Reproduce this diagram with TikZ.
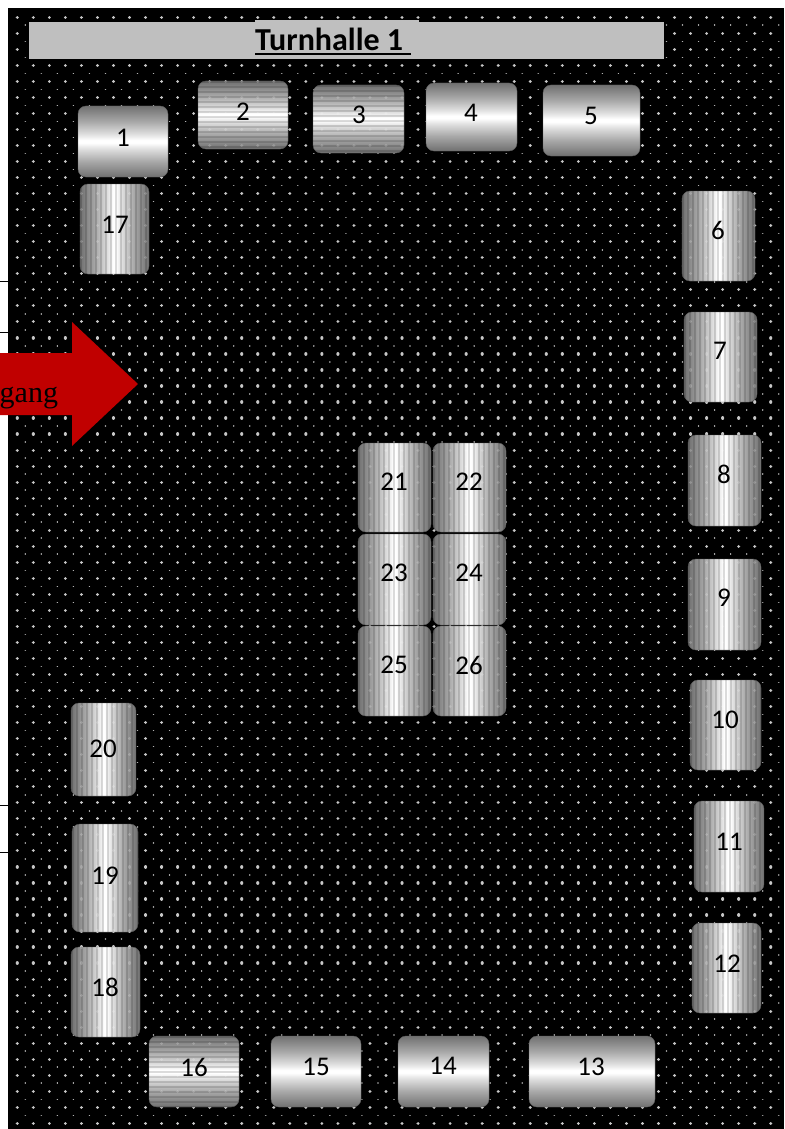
\documentclass[tikz,border=0pt]{standalone}
\usepackage{fontspec}
\setmainfont{Carlito}
\newfontfamily\serifgang{Liberation Serif}
\definecolor{hallred}{HTML}{C00000}
\definecolor{titlegray}{HTML}{BFBFBF}
\pgfdeclareverticalshading{metal}{100bp}{
  color(0bp)=(black!58!white);
  color(25bp)=(black!56!white);
  color(36bp)=(black!34!white);
  color(45bp)=(black!12!white);
  color(49bp)=(white);
  color(51bp)=(white);
  color(55bp)=(black!12!white);
  color(64bp)=(black!34!white);
  color(75bp)=(black!56!white);
  color(100bp)=(black!58!white)}
\tikzset{
  hallbox/.style={rectangle,rounded corners=8pt,shading=metal,draw=black!62!white,line width=.4pt,inner sep=0pt,outer sep=0pt},
  halllabel/.style={inner sep=0pt,outer sep=0pt,text=black,font=\fontsize{27}{32}\selectfont},
  bigdots/.style={line cap=round,line width=3.2pt,dash pattern=on .01pt off 16.02pt},
  smalldots/.style={line cap=round,line width=1.6pt,dash pattern=on .01pt off 16.02pt},
  ghostdots/.style={bigdots,white,opacity=.2},
  stripes/.style={black,opacity=.14,dash pattern=on 2.2pt off 2.8pt}
}
% #1 number, #2 x0, #3 y0, #4 x1, #5 y1, #6 angle
\newcommand{\metalbase}[6]{%
  \pgfmathsetmacro{\bw}{#4-#2}\pgfmathsetmacro{\bh}{#5-#3}%
  \node[hallbox,shading angle=#6,minimum width=\bw pt,minimum height=\bh pt] (b#1) at ({(#2+#4)/2},{(#3+#5)/2}) {};}
\newcommand{\ghostrows}[4]{%
  \pgfmathtruncatemacro{\ia}{ceil((#1-17.3)/16.03)}%
  \pgfmathtruncatemacro{\ja}{ceil((#2-17.3)/16.03)}\pgfmathtruncatemacro{\jb}{floor((#4-17.3)/16.03)}%
  \foreach \j in {\ja,...,\jb}{%
    \draw[ghostdots] ({17.3+16.03*\ia},{17.3+16.03*\j}) -- (#3,{17.3+16.03*\j});}}
% #1 number, #2-#5 box, #6 #7 label position
\newcommand{\metalS}[7]{%
  \metalbase{#1}{#2}{#3}{#4}{#5}{0}%
  \node[halllabel] (l#1) at (#6,#7) {#1};}
\newcommand{\metalV}[7]{%
  \metalbase{#1}{#2}{#3}{#4}{#5}{90}%
  \begin{scope}
    \clip[rounded corners=8pt] (#2,#3) rectangle (#4,#5);
    \draw[stripes,line width=\bh pt] (#2,{(#3+#5)/2}) -- (#4,{(#3+#5)/2});
    \ghostrows{#2}{#3}{#4}{#5}
  \end{scope}
  \node[halllabel] (l#1) at (#6,#7) {#1};}
\newcommand{\metalH}[7]{%
  \metalbase{#1}{#2}{#3}{#4}{#5}{0}%
  \begin{scope}
    \clip[rounded corners=8pt] (#2,#3) rectangle (#4,#5);
    \draw[stripes,line width=\bw pt] ({(#2+#4)/2},#3) -- ({(#2+#4)/2},#5);
    \ghostrows{#2}{#3}{#4}{#5}
  \end{scope}
  \node[halllabel] (l#1) at (#6,#7) {#1};}
\begin{document}
\begin{tikzpicture}[x=1pt,y=-1pt]
\useasboundingbox (0,0) rectangle (784,1129);
\clip (0,0) rectangle (784,1129);
% ground
\fill[black] (8,8) rectangle (784,1129);
\foreach \j in {0,...,69}{
  \draw[bigdots,black!22!white] (17.3,{17.3+16.03*\j}) -- (784,{17.3+16.03*\j});}
\foreach \j in {0,...,68}{
  \draw[smalldots,black!30!white] (25.3,{25.3+16.03*\j}) -- (784,{25.3+16.03*\j});}
% ticks at the left edge
\foreach \y in {281,332,805,852}{\draw[black,line width=1pt] (0,\y) -- (8,\y);}
% title
\fill[titlegray] (29,22) rectangle (664,59);
\fill[titlegray] (255,20) rectangle (419,22);
\node[inner sep=0pt,outer sep=0pt,anchor=base west,font=\fontsize{32}{38}\selectfont\bfseries] (title) at (255,50.7) {Turnhalle 1};
\fill[black] (255,53) rectangle (411,55);
% entrance arrow
\fill[hallred] (0,353) -- (72,353) -- (72,322) -- (138,384) -- (72,446) -- (72,415) -- (0,415) -- cycle;
\node[inner sep=0pt,outer sep=0pt,anchor=base east,text=black,font=\serifgang\fontsize{30}{36}\selectfont] (entry) at (58,402) {gang};
% boxes
\metalS{1}{78}{106}{168}{177}{123}{138}
\metalH{2}{198}{81}{288}{149}{243}{112}
\metalH{3}{313}{85}{404}{153}{359}{115}
\metalS{4}{426}{83}{517}{151}{471}{113}
\metalS{5}{543}{85}{640}{156}{591}{116}
\metalV{6}{682}{191}{755}{281}{718}{230}
\metalV{7}{684}{312}{757}{402}{720}{351}
\metalV{8}{688}{435}{761}{526}{724}{474}
\metalV{9}{688}{559}{761}{650}{724}{598}
\metalV{10}{690}{680}{761}{770}{725}{720}
\metalV{11}{694}{801}{764}{892}{729}{842}
\metalV{12}{692}{923}{761}{1013}{727}{964}
\metalS{13}{529}{1036}{655}{1107}{591}{1067}
\metalS{14}{398}{1036}{489}{1107}{443}{1066}
\metalS{15}{271}{1036}{361}{1107}{316}{1067}
\metalH{16}{149}{1036}{239}{1107}{194}{1067}
\metalV{17}{80}{184}{149}{274}{115}{225}
\metalV{18}{71}{947}{140}{1037}{105}{987}
\metalV{19}{72}{824}{138}{932}{105}{876}
\metalV{20}{71}{703}{136}{796}{103}{749}
\metalV{21}{358}{443}{431}{532}{394}{482}
\metalV{22}{433}{443}{506}{532}{469}{482}
\metalV{23}{358}{534}{431}{625}{394}{573}
\metalV{24}{433}{534}{506}{625}{469}{573}
\metalV{25}{358}{626}{431}{716}{394}{665}
\metalV{26}{433}{626}{506}{716}{469}{665}
\end{tikzpicture}
\end{document}
